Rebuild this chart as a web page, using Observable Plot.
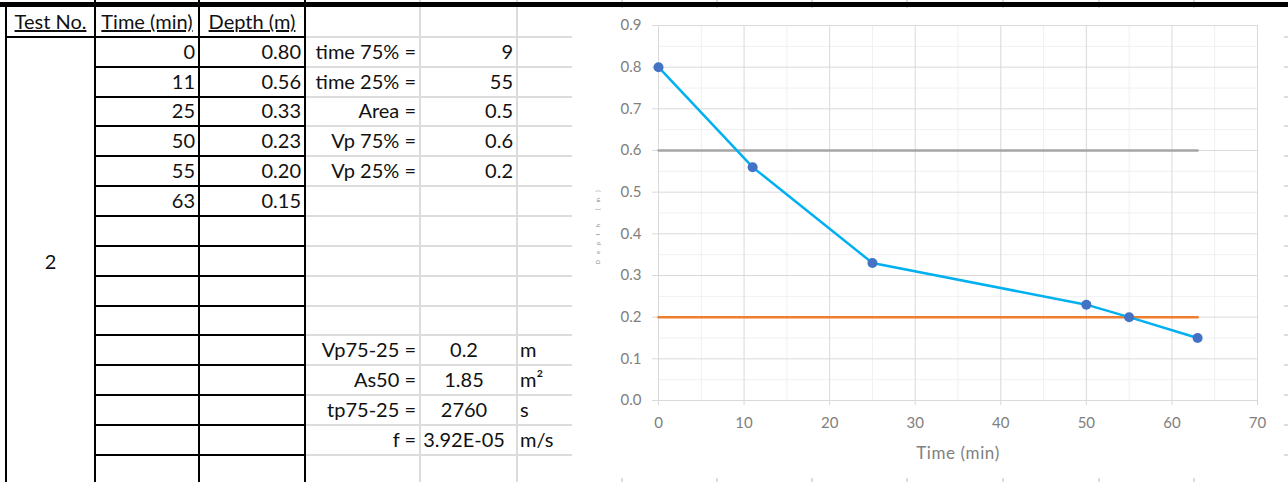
<!DOCTYPE html>
<html><head><meta charset="utf-8">
<script src="https://cdn.jsdelivr.net/npm/d3@7"></script>
<script src="https://cdn.jsdelivr.net/npm/@observablehq/plot@0.6"></script>
<style>
html,body{margin:0;padding:0;background:#fff;}
#sheet{position:relative;width:1288px;height:482px;overflow:hidden;background:#fff;font-family:Lato,"Open Sans",sans-serif;}
.c{position:absolute;font-size:20px;color:#111;white-space:nowrap;line-height:20px;height:20px;}
.ln{position:absolute;}
#chart{position:absolute;left:572px;top:8px;width:712px;height:470px;background:#fff;}
</style></head><body><div id="sheet"><div id="chart"></div></div>
<script>
// ---- data ----
const testNo = "2";
const headers = ["Test No.", "Time (min)", "Depth (m)"];
const times = [0, 11, 25, 50, 55, 63];
const depths = [0.80, 0.56, 0.33, 0.23, 0.20, 0.15];
const upperLabels = ["time 75% =", "time 25% =", "Area =", "Vp 75% =", "Vp 25% ="];
const upperValues = ["9", "55", "0.5", "0.6", "0.2"];
const lowerLabels = ["Vp75-25 =", "As50 =", "tp75-25 =", "f ="];
const lowerValues = ["0.2", "1.85", "2760", "3.92E-05"];
const lowerUnits = ["m", "m²", "s", "m/s"];
const vp75 = 0.6;
const vp25 = 0.2;
const xTicks = [0, 10, 20, 30, 40, 50, 60, 70];
const xMinor = [5, 15, 25, 35, 45, 55, 65];
const yTicks = [0, 0.1, 0.2, 0.3, 0.4, 0.5, 0.6, 0.7, 0.8, 0.9];
const yMinor = [0.05, 0.15, 0.25, 0.35, 0.45, 0.55, 0.65, 0.75, 0.85];

// ---- spreadsheet ----
const sheet = document.getElementById("sheet");
const chartDiv = document.getElementById("chart");
function rect(x, y, w, h, color) {
  const d = document.createElement("div");
  d.className = "ln";
  Object.assign(d.style, {left: x + "px", top: y + "px", width: w + "px", height: h + "px", background: color});
  sheet.insertBefore(d, chartDiv);
  return d;
}
function txt(s, x, base, w, align) {
  const d = document.createElement("div");
  d.className = "c";
  d.textContent = s;
  Object.assign(d.style, {left: x + "px", top: (base - 17.7) + "px", width: w + "px", textAlign: align});
  sheet.insertBefore(d, chartDiv);
  return d;
}
const rowTop = i => Math.round(7 + 29.85 * i);
const base = r => rowTop(r + 1) - 8;
const grey = "#dcdcdc";
// light gridlines
for (let i = 1; i <= 16; i++) rect(305, rowTop(i) - 1, 983, 2, grey);
[420, 517, 622, 717, 812, 907, 1003, 1099, 1194].forEach(x => rect(x - 1, 0, 2, 482, grey));
// black borders
rect(5, 7, 2, 475, "#000");
[95, 199, 305].forEach(x => rect(x - 1, 0, 2, 482, "#000"));
rect(5, rowTop(1) - 1, 300, 2, "#000");
for (let i = 2; i <= 16; i++) rect(95, rowTop(i) - 1, 210, 2, "#000");
rect(0, 2, 1288, 5, "#000");

// header
const colL = [6, 95, 199, 305];
headers.forEach((h, i) => {
  const d = txt(h, colL[i], base(0), colL[i + 1] - colL[i], "center");
  d.style.textDecoration = "underline";
});
// data cells
times.forEach((t, i) => {
  txt(String(t), 95, base(i + 1), 100, "right");
  txt(depths[i].toFixed(2), 199, base(i + 1), 102, "right");
});
txt(testNo, 6, 269, 89, "center");
upperLabels.forEach((l, i) => {
  txt(l, 305, base(i + 1), 111, "right");
  txt(upperValues[i], 420, base(i + 1), 93, "right");
});
lowerLabels.forEach((l, i) => {
  txt(l, 305, base(i + 11), 111, "right");
  txt(lowerValues[i], 416, base(i + 11), 96, "center");
  txt(lowerUnits[i], 520, base(i + 11), 60, "left");
});

// ---- chart ----
const data = times.map((t, i) => ({time: t, depth: depths[i]}));
const tMin = d3.min(times), tMax = d3.max(times);
const ref75 = [{time: tMin, depth: vp75}, {time: tMax, depth: vp75}];
const ref25 = [{time: tMin, depth: vp25}, {time: tMax, depth: vp25}];

const chart = Plot.plot({
  width: 712, height: 470,
  marginLeft: 86, marginRight: 27, marginTop: 17, marginBottom: 78,
  style: {fontFamily: "Lato, sans-serif", fontSize: "15px", color: "#808080", background: "#fff", overflow: "visible"},
  x: {domain: [0, 70]},
  y: {domain: [0, 0.9]},
  marks: [
    Plot.gridX({ticks: xMinor, stroke: "#f0f0f0", strokeOpacity: 1}),
    Plot.gridY({ticks: yMinor, stroke: "#f0f0f0", strokeOpacity: 1}),
    Plot.gridX({ticks: xTicks, stroke: "#d9d9d9", strokeOpacity: 1}),
    Plot.gridY({ticks: yTicks, stroke: "#d9d9d9", strokeOpacity: 1}),
    Plot.axisY({ticks: yTicks, tickFormat: d3.format(".1f"), tickSize: 6, tickPadding: 11, stroke: "#d9d9d9",
      label: "Depth (m)", labelAnchor: "center", labelOffset: 62, labelArrow: false}),
    Plot.axisX({ticks: xTicks, tickSize: 5, tickPadding: 12, stroke: "#d9d9d9",
      label: "Time (min)", labelAnchor: "center", labelOffset: 58, labelArrow: false}),
    Plot.lineY(ref75, {x: "time", y: "depth", stroke: "#a5a5a5", strokeWidth: 2.5}),
    Plot.lineY(ref25, {x: "time", y: "depth", stroke: "#ed7d31", strokeWidth: 2.5}),
    Plot.line(data, {x: "time", y: "depth", stroke: "#00b0f0", strokeWidth: 2.5}),
    Plot.dot(data, {x: "time", y: "depth", r: 5, fill: "#4472c4"})
  ]
});
chartDiv.appendChild(chart);
d3.select(chart).selectAll('g[aria-label="y-axis label"] text')
  .style("font-size", "5px").style("letter-spacing", "6.5px").attr("dx", -11);
d3.select(chart).selectAll('g[aria-label="x-axis label"] text')
  .style("font-size", "17px").style("letter-spacing", "0.6px");
</script>
</body></html>
